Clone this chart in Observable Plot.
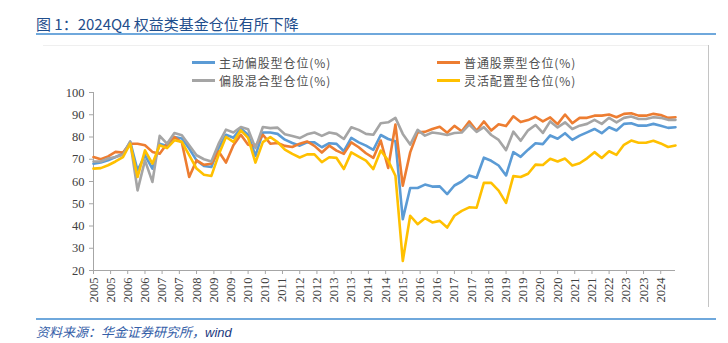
<!DOCTYPE html>
<html>
<head>
<meta charset="utf-8">
<script src="https://cdn.jsdelivr.net/npm/d3@7"></script>
<script src="https://cdn.jsdelivr.net/npm/@observablehq/plot@0.6"></script>
<style>
  body { margin: 0; background: #fff; }
  #wrap { position: relative; width: 728px; height: 343px; overflow: hidden; background: #fff; font-family: "Noto Sans CJK SC", sans-serif; }
  #chart { position: absolute; left: 0; top: 0; }
  .title { position: absolute; left: 36px; top: 14px; font-size: 15px; line-height: 20px; color: #1f4e8c; letter-spacing: 0px; white-space: nowrap; }
  .hline { position: absolute; left: 36px; width: 680px; height: 2px; background: #6fa8dc; }
  .boxtop { position: absolute; left: 43px; top: 45px; width: 665px; height: 1px; background: #efefef; }
  .boxright { position: absolute; left: 708px; top: 45px; width: 1px; height: 262px; background: #c4c4c4; }
  .leg { position: absolute; display: flex; align-items: center; height: 17px; font-size: 12px; line-height: 17px; color: #505050; letter-spacing: 0.9px; white-space: nowrap; }
  .sw { width: 23px; height: 3px; margin-right: 4px; }
  .caption { position: absolute; left: 36px; top: 324px; font-size: 13px; line-height: 16px; font-style: italic; color: #3560a8; white-space: nowrap; }
  .caption span { color: #1c3a80; font-family: "Liberation Sans", sans-serif; }
</style>
</head>
<body>
<div id="wrap">
  <div id="chart"></div>
  <div class="boxtop"></div>
  <div class="boxright"></div>
  <div class="title">图 1：2024Q4 权益类基金仓位有所下降</div>
  <div class="hline" style="top:33px"></div>
  <div class="hline" style="top:318px"></div>
  <div id="legend"></div>
  <div class="caption">资料来源：华金证券研究所，<span>wind</span></div>
</div>
<script>
// ---- data (quarterly, 2005Q1 .. 2024Q4) ----
const startYear = 2005;
const seriesNames = ["主动偏股型仓位(%)", "普通股票型仓位(%)", "偏股混合型仓位(%)", "灵活配置型仓位(%)"];

const activeEquity = [
  68, 68.5, 69.5, 71, 72.5, 77.8, 65, 71.8, 65.8, 77,
  76, 80, 79.3, 74.8, 69.5, 67, 66.5, 75, 81, 79.7,
  83.8, 81, 71.5, 82, 82, 81.4, 78.8, 77.3, 76.1, 77.6,
  77.6, 75.4, 77.2, 76.9, 73.6, 79.6, 77.6, 76.1, 74.2, 80.9,
  79.1, 78.1, 43.1, 57.1, 57.1, 58.6, 57.7, 57.8, 54.3, 58.2,
  60, 62.7, 61.7, 70.7, 69.3, 67.2, 62.7, 73.2, 71.1, 74.3,
  77.2, 76.8, 80.7, 79.2, 81.7, 78.7, 80.6, 82.1, 83.6, 81.7,
  84.4, 82.9, 85.9, 86.2, 85.1, 85.1, 85.9, 85.1, 84.1, 84.4
];
const ordinaryStock = [
  71, 70, 71.3, 73.3, 73, 77, 77, 76.3, 73.3, 72.5,
  77, 80, 77.5, 62, 69.5, 67.5, 68, 73.5, 68.5, 76.3,
  81, 76.5, 76, 81, 77, 77.3, 76, 75.5, 77, 78,
  76, 73, 76.1, 73.9, 72.4, 77.6, 75.4, 72.7, 70.6, 78.4,
  66.1, 85.6, 58.1, 73.1, 82.1, 82.3, 83.6, 84.6, 81.9, 85,
  82.6, 87, 82.8, 87, 82.9, 85.7, 84.9, 89.3, 86.7, 87.6,
  89.1, 87, 88.8, 85.8, 90.1, 86.2, 88.6, 88.6, 89.6, 89.6,
  90.1, 88.9, 90.4, 90.7, 89.6, 89.6, 90.4, 89.9, 88.6, 88.9
];
const equityMixed = [
  69, 69, 70.3, 71, 72, 78, 56, 69.5, 59.8, 80.5,
  77, 81.8, 80.8, 76.3, 71.8, 70, 69, 77, 83.3, 82,
  84.5, 83.5, 75, 84.5, 84, 84.2, 81.2, 80.4, 79.5, 81.2,
  82, 80.5, 82, 81.4, 79.1, 84.4, 83.2, 81.4, 81, 86.2,
  86.6, 88.6, 81.4, 76.6, 83.2, 80.6, 82, 81.6, 80.9, 81.8,
  82, 85.6, 82.3, 84.4, 80.9, 78.7, 74.1, 82.4, 78.3, 83,
  85.4, 81.8, 87, 84.3, 86.6, 83.6, 85.1, 85.9, 87.7, 85.9,
  88.6, 86.6, 88.6, 89.2, 88.1, 88.1, 88.9, 88.6, 87.7, 87.7
];
const flexibleAlloc = [
  65.8, 66, 67.3, 69, 71, 77, 62, 74, 68, 76.3,
  75, 78.5, 77.8, 71.8, 65.8, 63, 62.5, 72, 80, 77.8,
  83, 79.6, 68.5, 77.7, 80, 77.7, 74.3, 72.4, 70.8, 72.2,
  72.2, 68.7, 70.9, 70.6, 65.6, 73.1, 71.2, 69.4, 65.6, 73.9,
  69.4, 62.6, 24.3, 44.6, 40.8, 43.5, 41.6, 42.3, 39.3, 44.6,
  46.8, 48.4, 48.2, 59.4, 59.4, 55.9, 50.4, 62.4, 62, 63.5,
  67.6, 67.4, 70.2, 69, 70.3, 67.2, 68.2, 70.4, 73.2, 70.6,
  73.6, 72, 76.5, 78.4, 77.4, 77.4, 78.3, 77.1, 75.5, 76.2
];

const yTicks = [20, 30, 40, 50, 60, 70, 80, 90, 100];
const xTickLabels = ["2005","2005","2006","2006","2007","2007","2008","2009","2009","2010","2010","2011",
  "2012","2012","2013","2013","2014","2014","2015","2016","2016","2017","2017","2018","2019","2019",
  "2020","2020","2021","2021","2022","2023","2023","2024"];
const tickStepMonths = 7;

// ---- styles ----
const colors = ["#5b9bd5", "#ed7d31", "#a5a5a5", "#ffc000"];
const allSeries = [activeEquity, ordinaryStock, equityMixed, flexibleAlloc];

const quarterDate = i => new Date(Date.UTC(startYear, 3 * i, 1));
const rows = [];
allSeries.forEach((vals, s) => vals.forEach((v, i) => rows.push({ date: quarterDate(i), value: v, series: seriesNames[s] })));

const tickDates = xTickLabels.map((_, k) => new Date(Date.UTC(startYear, tickStepMonths * k, 1)));
const tickMap = new Map(tickDates.map((d, k) => [+d, xTickLabels[k]]));

const x0 = quarterDate(0);
const x1 = quarterDate(activeEquity.length - 1);

const chart = Plot.plot({
  width: 728,
  height: 343,
  marginLeft: 93,
  marginRight: 53,
  marginTop: 92,
  marginBottom: 73,
  style: { background: "transparent", fontFamily: "'Liberation Serif', serif", fontSize: "12.5px", color: "#404040", overflow: "visible" },
  x: { type: "utc", domain: [x0, x1], axis: null },
  y: { domain: [20, 100], axis: null },
  marks: [
    Plot.axisY({ ticks: yTicks, tickSize: 4, tickPadding: 5, stroke: "#a6a6a6", fill: "#404040", label: null, fontSize: 12.5 }),
    Plot.axisX({ ticks: tickDates, tickFormat: d => tickMap.get(+d), tickRotate: -90, tickSize: 4, tickPadding: 3, stroke: "#a6a6a6", fill: "#404040", label: null, fontSize: 12.5 }),
    Plot.ruleX([x0], { stroke: "#a6a6a6" }),
    Plot.ruleY([20], { stroke: "#a6a6a6" }),
    ...seriesNames.map((name, s) => Plot.line(rows.filter(r => r.series === name), {
      x: "date", y: "value", stroke: colors[s], strokeWidth: 2.6, strokeLinejoin: "round", strokeLinecap: "round"
    }))
  ]
});
document.getElementById("chart").appendChild(chart);

// ---- legend ----
const legendPos = [[192, 54], [437, 54], [192, 71.5], [437, 71.5]];
const legend = document.getElementById("legend");
seriesNames.forEach((name, s) => {
  const el = document.createElement("div");
  el.className = "leg";
  el.style.left = legendPos[s][0] + "px";
  el.style.top = legendPos[s][1] + "px";
  el.innerHTML = `<div class="sw" style="background:${colors[s]}"></div><span>${name}</span>`;
  legend.appendChild(el);
});
</script>
</body>
</html>
